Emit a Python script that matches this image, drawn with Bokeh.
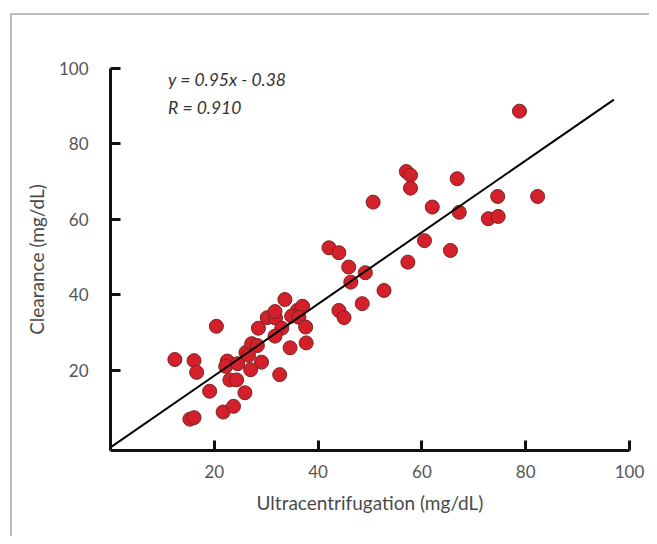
from bokeh.plotting import figure
from bokeh.models import FixedTicker, Range1d, Label, ColumnDataSource
from bokeh.embed import file_html
from bokeh.resources import INLINE

# Data
ultracentrifugation = [12.4, 16.1, 16.6, 19.1, 15.3, 16.1, 21.7, 23.7, 25.9, 23.0,
                       24.3, 22.5, 22.2, 24.5, 27.0, 29.1, 20.4, 26.1, 27.2, 28.3,
                       26.6, 28.5, 30.2, 31.8, 31.7, 33.6, 33.0, 31.7, 34.6, 32.6,
                       36.0, 37.0, 34.9, 36.3, 37.6, 37.7, 42.1, 44.0, 45.9, 49.1,
                       46.3, 52.7, 48.5, 44.0, 45.0, 57.3, 60.5, 65.5, 50.6, 57.0,
                       57.8, 57.8, 62.0, 66.8, 67.2, 72.8, 74.7, 74.6, 82.3, 78.8]
clearance = [22.9, 22.6, 19.5, 14.5, 7.1, 7.5, 9.0, 10.5, 14.1, 17.5,
             17.5, 22.5, 21.1, 21.8, 20.2, 22.2, 31.7, 24.8, 27.1, 26.6,
             24.0, 31.2, 34.0, 33.9, 35.6, 38.8, 31.2, 29.1, 26.0, 18.9,
             35.9, 37.0, 34.4, 34.1, 31.5, 27.3, 52.5, 51.2, 47.4, 45.9,
             43.4, 41.2, 37.7, 35.9, 34.0, 48.7, 54.4, 51.8, 64.6, 72.7,
             71.7, 68.3, 63.3, 70.8, 61.9, 60.2, 60.8, 66.1, 66.1, 88.7]
tick_values = [20, 40, 60, 80, 100]
slope = 0.95
intercept = -0.38
fit_x = [0, 97]
fit_y = [slope * v + intercept for v in fit_x]
equation_lines = ["y = 0.95x - 0.38", "R = 0.910"]
x_title = "Ultracentrifugation (mg/dL)"
y_title = "Clearance (mg/dL)"

frame_css = ("linear-gradient(#bdbdbd, #bdbdbd) 10px 13px / 2px 100% no-repeat, "
             "linear-gradient(#bdbdbd, #bdbdbd) 10px 13px / 100% 2px no-repeat, #ffffff")

p = figure(width=649, height=536,
           x_range=Range1d(0, 100), y_range=Range1d(-1.2, 100),
           output_backend="svg", toolbar_location=None,
           min_border_left=110, min_border_right=20,
           min_border_top=68, min_border_bottom=86,
           styles={"background": frame_css})
p.grid.visible = False
p.outline_line_color = None
p.background_fill_color = None
p.border_fill_color = None

for ax in (p.xaxis[0], p.yaxis[0]):
    ax.ticker = FixedTicker(ticks=tick_values)
    ax.axis_line_width = 3
    ax.axis_line_color = "#111111"
    ax.major_tick_in = 10
    ax.major_tick_out = 0
    ax.major_tick_line_width = 3
    ax.major_tick_line_color = "#111111"
    ax.minor_tick_line_color = None
    ax.major_label_text_font = "Lato"
    ax.major_label_text_font_size = "17px"
    ax.major_label_text_color = "#555555"
    ax.axis_label_text_font = "Lato"
    ax.axis_label_text_font_size = "19px"
    ax.axis_label_text_font_style = "normal"
    ax.axis_label_text_color = "#4a4a4a"

p.xaxis.axis_label = x_title
p.yaxis.axis_label = y_title
p.xaxis.major_label_standoff = 14
p.xaxis.axis_label_standoff = 10
p.yaxis.major_label_standoff = 22
p.yaxis.axis_label_standoff = 8

src = ColumnDataSource(dict(x=ultracentrifugation, y=clearance))
p.scatter("x", "y", source=src, size=14, fill_color="#d3202a",
          line_color="#7a2424", line_width=1)
p.line(fit_x, fit_y, line_color="black", line_width=2)

p.add_layout(Label(x=11.1, y=97.1, text=equation_lines[0], text_font="Lato",
                   text_font_style="italic", text_font_size="17.5px",
                   text_color="#333333", text_baseline="alphabetic"))
p.add_layout(Label(x=11.1, y=89.7, text=equation_lines[1], text_font="Lato",
                   text_font_style="italic", text_font_size="17.5px",
                   text_color="#333333", text_baseline="alphabetic"))

open("out.html", "w").write(file_html(p, INLINE))
